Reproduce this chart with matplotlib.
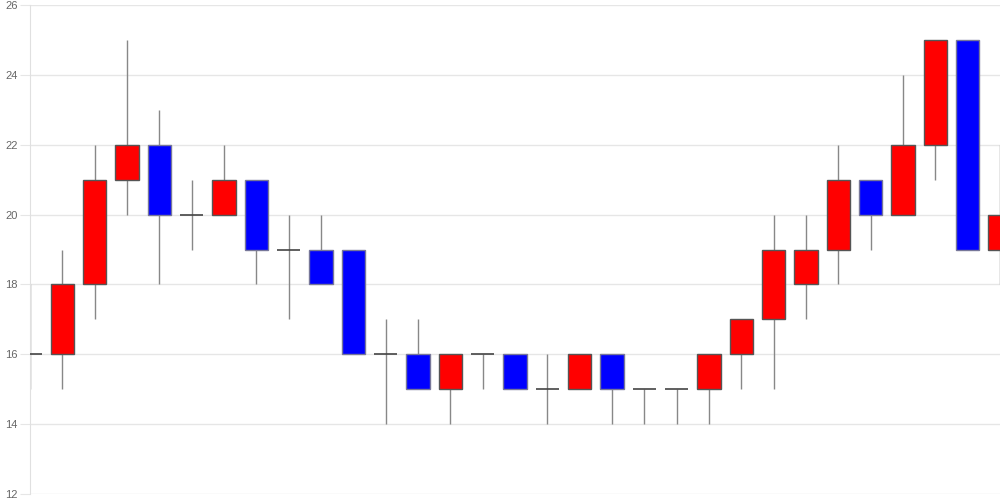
import matplotlib
matplotlib.use("Agg")
import matplotlib.pyplot as plt
from matplotlib.patches import Rectangle

opens  = [16, 16, 18, 21, 22, 20, 20, 21, 19, 19, 19, 16, 16, 15, 16, 16, 15, 15, 16, 15, 15, 15, 16, 17, 18, 19, 21, 20, 22, 25, 19]
closes = [16, 18, 21, 22, 20, 20, 21, 19, 19, 18, 16, 16, 15, 16, 16, 15, 15, 16, 15, 15, 15, 16, 17, 19, 19, 21, 20, 22, 25, 19, 20]
highs  = [18, 19, 22, 25, 23, 21, 22, 21, 20, 20, 19, 17, 17, 16, 16, 16, 16, 16, 16, 15, 15, 16, 17, 20, 20, 22, 21, 24, 25, 25, 22]
lows   = [15, 15, 17, 20, 18, 19, 20, 18, 17, 18, 16, 14, 15, 14, 15, 15, 14, 15, 14, 14, 14, 14, 15, 15, 17, 18, 19, 20, 21, 19, 18]
y_ticks = [12, 14, 16, 18, 20, 22, 24, 26]

plt.rcParams["font.family"] = ["Liberation Sans", "DejaVu Sans"]
fig = plt.figure(figsize=(10, 5), dpi=100)
ax = fig.add_axes([0.03, 0.012, 0.97, 0.978])
n = len(opens)
ax.set_xlim(0, n - 1)
ax.set_ylim(12, 26)

w = 0.73
for i, (o, c, h, l) in enumerate(zip(opens, closes, highs, lows)):
    ax.vlines(i, l, h, color="#888888", linewidth=1, zorder=2)
    if o == c:
        ax.hlines(o, i - w / 2, i + w / 2, color="#444444", linewidth=1.2, zorder=3)
    else:
        color = "#ff0000" if c > o else "#0000ff"
        ec = "#555555" if c > o else "#777799"
        ax.add_patch(Rectangle((i - w / 2, min(o, c)), w, abs(c - o),
                               facecolor=color, edgecolor=ec, linewidth=1, zorder=3))

ax.set_yticks(y_ticks)
ax.set_xticks([])
ax.grid(axis="y", color="#e6e6e6", linewidth=1, zorder=0)
for s in ["top", "right", "bottom"]:
    ax.spines[s].set_visible(False)
ax.spines["left"].set_color("#e0e0e0")
ax.tick_params(axis="y", length=7.5, color="#e6e6e6", labelsize=8, labelcolor="#666666", pad=1.5)
fig.savefig("out.png", dpi=100)
